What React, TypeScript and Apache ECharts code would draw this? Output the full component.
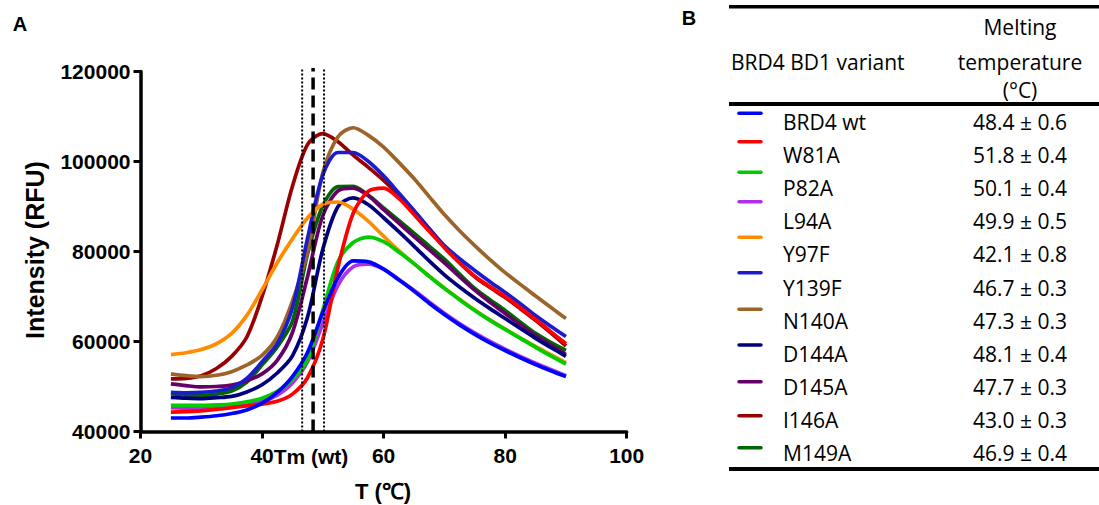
import React, { useEffect, useRef } from "react";
import * as echarts from "echarts";

// ---- data ----
const temps = [25, 27.5, 30, 32.5, 35, 37.5, 40, 42.5, 45, 47.5, 50, 52.5, 55, 57.5, 60, 62.5, 65, 67.5, 70, 72.5, 75, 77.5, 80, 82.5, 85, 87.5, 90];

const wt = [43000, 43000, 43200, 43500, 44000, 44800, 46300, 48700, 52200, 57600, 66500, 74200, 77900, 77700, 76100, 73700, 71200, 68500, 66000, 63700, 61600, 59700, 58000, 56400, 54900, 53500, 52200];
const w81a = [44300, 44400, 44600, 44900, 45300, 45700, 46100, 46700, 48300, 52000, 60500, 76500, 88500, 93400, 94100, 91800, 88200, 84500, 80900, 77500, 74500, 72200, 70000, 67500, 64900, 62200, 59500];
const p82a = [45800, 45800, 45800, 45900, 46100, 46600, 47400, 48900, 51500, 56000, 67000, 77800, 82000, 83200, 82200, 79900, 77300, 74500, 71800, 69300, 66900, 64700, 62700, 60700, 58700, 56800, 55000];
const l94a = [45300, 45200, 45200, 45300, 45500, 45900, 46700, 48100, 50800, 55500, 64000, 72500, 76600, 77200, 76100, 73800, 71400, 68800, 66300, 64000, 61900, 60000, 58300, 56700, 55200, 53800, 52400];
const y97f = [57100, 57500, 58200, 59500, 61800, 65800, 71500, 77500, 82800, 87500, 90500, 91000, 89400, 86700, 83400, 80200, 77300, 74500, 71900, 69400, 67000, 64800, 62800, 60800, 58900, 57100, 55300];
const y139f = [48700, 48600, 48700, 49000, 49700, 51800, 55500, 59500, 67500, 83000, 97000, 102000, 102000, 100000, 96800, 93000, 89100, 85100, 81300, 78400, 75800, 73300, 70900, 68400, 65800, 63400, 61100];
const n140a = [52800, 52400, 52200, 52500, 53300, 54800, 56900, 61000, 69000, 80000, 97500, 105500, 107500, 105800, 103200, 99800, 96200, 92200, 88200, 84600, 81300, 78200, 75300, 72700, 70100, 67600, 65100];
const d144a = [47600, 47400, 47300, 47500, 47800, 48800, 50400, 53000, 56800, 65500, 80500, 90000, 91900, 90400, 87500, 84400, 81200, 77900, 74800, 72100, 69600, 67300, 65100, 62900, 60700, 58700, 56700];
const d145a = [50600, 50200, 49900, 50000, 50300, 51300, 52800, 55800, 62000, 74500, 88000, 93500, 94100, 92400, 89300, 86300, 83300, 80400, 77500, 74400, 71400, 68700, 66200, 63700, 61300, 59200, 57100];
const i146a = [51700, 51800, 52400, 54000, 56700, 61000, 70000, 81500, 94500, 103800, 106200, 104400, 101400, 98700, 95800, 92500, 89000, 85000, 80900, 77500, 74400, 72000, 69800, 67300, 64700, 61900, 59000];
const m149a = [48400, 48100, 48000, 48300, 49000, 51000, 54800, 58800, 64500, 79500, 90200, 94400, 94500, 92500, 89700, 86900, 84100, 81200, 78300, 75000, 71800, 69300, 66900, 64300, 61800, 59800, 58000];

const variants = ["BRD4 wt", "W81A", "P82A", "L94A", "Y97F", "Y139F", "N140A", "D144A", "D145A", "I146A", "M149A"];
const meltTemps = ["48.4 ± 0.6", "51.8 ± 0.4", "50.1 ± 0.4", "49.9 ± 0.5", "42.1 ± 0.8", "46.7 ± 0.3", "47.3 ± 0.3", "48.1 ± 0.4", "47.7 ± 0.3", "43.0 ± 0.3", "46.9 ± 0.4"];
const seriesValues = [wt, w81a, p82a, l94a, y97f, y139f, n140a, d144a, d145a, i146a, m149a];

const tmWt = 48.4;
const tmLow = 46.6;
const tmHigh = 50.2;

// ---- styles ----
const colors = ["#0000ff", "#ff0000", "#00cc00", "#b030e8", "#ff8c00", "#1c1ccc", "#9c6428", "#00007f", "#660066", "#990000", "#006600"];
const swatchY = [113.3, 141.7, 172.3, 201.7, 237.3, 272.7, 309.3, 345, 381.7, 415.7, 447.7];

const AX_FONT = "Liberation Sans";
const TB_FONT = "Open Sans";

export default function App() {
  const ref = useRef<HTMLDivElement>(null);
  useEffect(() => {
    const chart = echarts.init(ref.current!, null, { renderer: "svg" });

    const curveSeries: any[] = [];
    for (let i = seriesValues.length - 1; i >= 0; i--) {
      curveSeries.push({
        type: "line",
        name: variants[i],
        data: temps.map((t, k) => [t, seriesValues[i][k]]),
        smooth: 0.3,
        showSymbol: false,
        symbol: "none",
        lineStyle: { color: colors[i], width: 3.7 },
        z: 3,
      });
    }
    const vline = (t: number, type: any, width: number) => ({
      type: "line",
      data: [[t, 40000], [t, 120800]],
      showSymbol: false,
      symbol: "none",
      clip: false,
      lineStyle: { color: "#000", width, type },
      z: 4,
    });

    const txt = (x: number, y: number, text: string, font: string, align: string, extra: any = {}) => ({
      type: "text",
      x,
      y,
      ...extra,
      style: { text, font, fill: "#000", textAlign: align, textVerticalAlign: "middle" },
    });

    const rows: any[] = [];
    variants.forEach((v, i) => {
      const y = 122 + i * 33.1;
      rows.push({
        type: "line",
        shape: { x1: 739, y1: swatchY[i], x2: 761, y2: swatchY[i] },
        style: { stroke: colors[i], lineWidth: 3.5, lineCap: "round" },
      });
      rows.push(txt(783, y, v, `21px ${TB_FONT}`, "left"));
      rows.push(txt(1020, y, meltTemps[i], `21px ${TB_FONT}`, "center"));
    });

    const option: any = {
      animation: false,
      grid: { left: 140.5, right: 472.3, top: 71.5, bottom: 73.5, containLabel: false },
      xAxis: {
        type: "value",
        min: 20,
        max: 100,
        interval: 20,
        splitLine: { show: false },
        axisLine: { lineStyle: { color: "#000", width: 3.5 } },
        axisTick: { inside: false, length: 7, lineStyle: { color: "#000", width: 3 } },
        axisLabel: { margin: 13, color: "#000", fontWeight: "bold", fontSize: 21, fontFamily: AX_FONT },
      },
      yAxis: {
        type: "value",
        min: 40000,
        max: 120000,
        interval: 20000,
        splitLine: { show: false },
        axisLine: { show: true, lineStyle: { color: "#000", width: 3.5 } },
        axisTick: { show: true, inside: false, length: 7, lineStyle: { color: "#000", width: 3 } },
        axisLabel: {
          margin: 10,
          color: "#000",
          fontWeight: "bold",
          fontSize: 21,
          fontFamily: AX_FONT,
          formatter: (v: number) => String(v),
        },
      },
      series: [...curveSeries, vline(tmLow, [2, 2], 2), vline(tmHigh, [2, 2], 2), vline(tmWt, [12, 6], 3.5)],
      graphic: [
        txt(20, 24, "A", `bold 20px ${AX_FONT}`, "center"),
        txt(689, 18, "B", `bold 20px ${AX_FONT}`, "center"),
        txt(311, 456, "Tm (wt)", `bold 21px ${AX_FONT}`, "center"),
        txt(383, 491, "T (℃)", `bold 22px ${AX_FONT}`, "center"),
        txt(35, 250, "Intensity (RFU)", `bold 25px ${AX_FONT}`, "center", { rotation: Math.PI / 2 }),
        { type: "rect", shape: { x: 729, y: 5, width: 370, height: 3.5 }, style: { fill: "#000" } },
        { type: "rect", shape: { x: 729, y: 102, width: 370, height: 4 }, style: { fill: "#000" } },
        { type: "rect", shape: { x: 729, y: 467, width: 370, height: 4 }, style: { fill: "#000" } },
        txt(731, 61.5, "BRD4 BD1 variant", `21px ${TB_FONT}`, "left"),
        txt(1020, 26.5, "Melting", `21px ${TB_FONT}`, "center"),
        txt(1020, 61.5, "temperature", `21px ${TB_FONT}`, "center"),
        txt(1020, 90, "(°C)", `21px ${TB_FONT}`, "center"),
        ...rows,
      ],
    };
    chart.setOption(option);
    return () => chart.dispose();
  }, []);
  return <div ref={ref} style={{ position: "absolute", left: 0, top: 0, width: 1099, height: 505, background: "#fff" }} />;
}
